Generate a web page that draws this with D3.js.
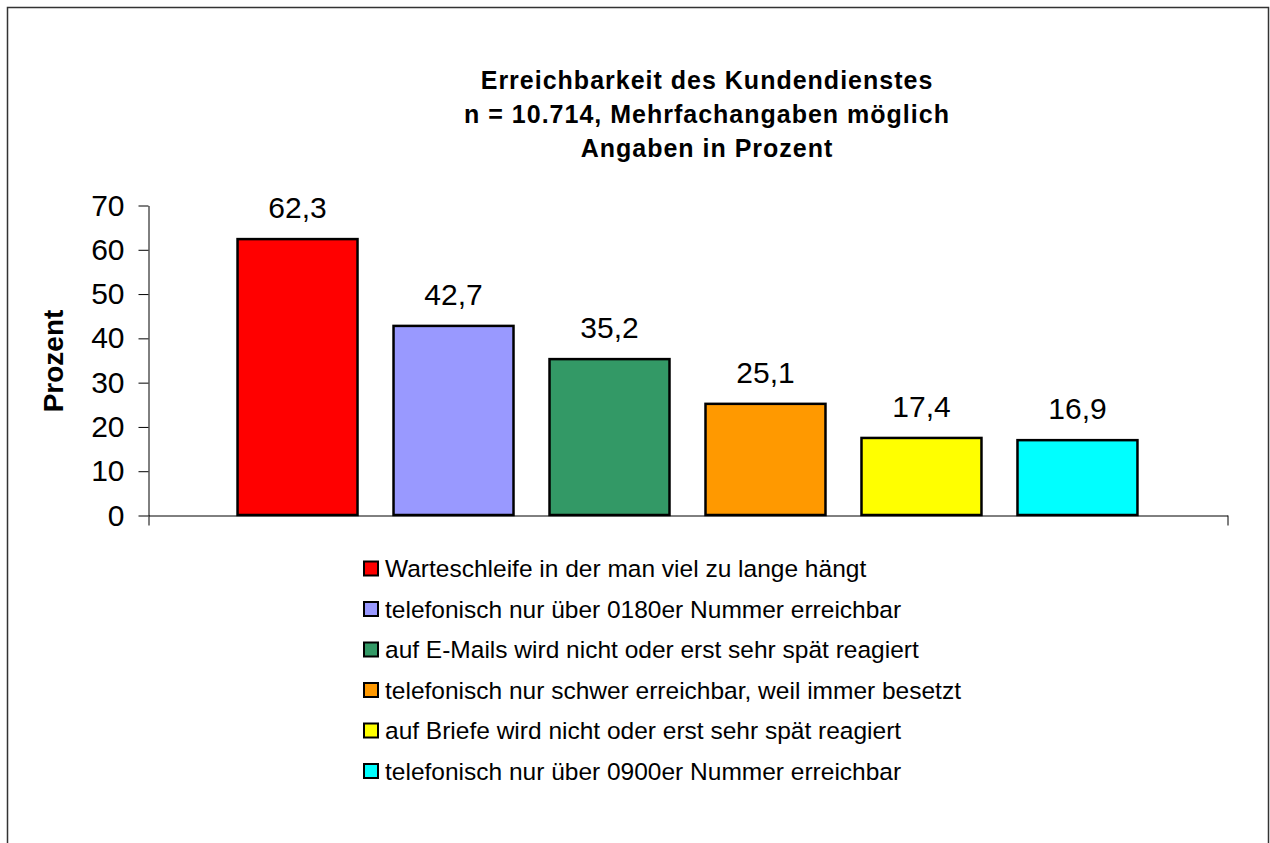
<!DOCTYPE html>
<html>
<head>
<meta charset="utf-8">
<script src="https://cdn.jsdelivr.net/npm/d3@7"></script>
<style>
  body { margin: 0; background: #fff; }
  svg { display: block; font-family: "Liberation Sans", Arial, sans-serif; }
</style>
</head>
<body>
<svg id="chart" width="1270" height="843"></svg>
<script>
// Chart data
const categories = [
    'Warteschleife in der man viel zu lange hängt',
    'telefonisch nur über 0180er Nummer erreichbar',
    'auf E-Mails wird nicht oder erst sehr spät reagiert',
    'telefonisch nur schwer erreichbar, weil immer besetzt',
    'auf Briefe wird nicht oder erst sehr spät reagiert',
    'telefonisch nur über 0900er Nummer erreichbar'
];
const values = [62.3, 42.7, 35.2, 25.1, 17.4, 16.9];
const colors = ['#ff0000', '#9999ff', '#339966', '#ff9900', '#ffff00', '#00ffff'];
const yTicks = [0, 10, 20, 30, 40, 50, 60, 70];
const titleLines = [
    'Erreichbarkeit des Kundendienstes',
    'n = 10.714, Mehrfachangaben möglich',
    'Angaben in Prozent'
];

const svg = d3.select('#chart');

// outer frame
svg.append('rect')
    .attr('x', 7.5)
    .attr('y', 7.5)
    .attr('width', 1261)
    .attr('height', 900)
    .attr('fill', 'none')
    .attr('stroke', '#333')
    .attr('stroke-width', 1.5);

const plotLeft = 148, plotRight = 1227, plotTop = 205, plotBottom = 515;

const x = d3.scaleBand()
    .domain(categories)
    .range([plotLeft, plotRight])
    .paddingInner(0.2308)
    .paddingOuter(0.574);

const y = d3.scaleLinear()
    .domain([0, 70])
    .range([plotBottom, plotTop]);

// y axis
const yAxis = svg.append('g')
    .attr('transform', `translate(${plotLeft + 0.5},0.5)`)
    .call(d3.axisLeft(y).tickValues(yTicks).tickSize(10).tickSizeOuter(0).tickPadding(14));
yAxis.select('.domain').attr('stroke', '#000');
yAxis.selectAll('.tick line').attr('stroke', '#000');
yAxis.selectAll('.tick text')
    .attr('font-size', '30px')
    .attr('font-family', '"Liberation Sans", Arial, sans-serif')
    .attr('fill', '#000');

// x axis (single category, ticks only at the edges)
const xEdge = d3.scaleLinear().domain([0, 1]).range([plotLeft, plotRight]);
const xAxis = svg.append('g')
    .attr('transform', `translate(0.5,${plotBottom + 0.5})`)
    .call(d3.axisBottom(xEdge).tickValues([0, 1]).tickFormat('').tickSize(10).tickSizeOuter(0));
xAxis.select('.domain').attr('stroke', '#000');
xAxis.selectAll('.tick line').attr('stroke', '#000');

// bars
svg.append('g')
    .selectAll('rect')
    .data(values)
    .join('rect')
    .attr('x', (d, i) => x(categories[i]))
    .attr('y', d => y(d))
    .attr('width', x.bandwidth())
    .attr('height', d => y(0) - y(d))
    .attr('fill', (d, i) => colors[i])
    .attr('stroke', '#000')
    .attr('stroke-width', 2.5);

// value labels
svg.append('g')
    .selectAll('text')
    .data(values)
    .join('text')
    .attr('x', (d, i) => x(categories[i]) + x.bandwidth() / 2)
    .attr('y', d => y(d) - 21)
    .attr('text-anchor', 'middle')
    .attr('font-size', '30px')
    .attr('fill', '#000')
    .text(d => d.toFixed(1).replace('.', ','));

// title
svg.append('text')
    .attr('x', 707)
    .attr('y', 89)
    .attr('text-anchor', 'middle')
    .attr('font-size', '25px')
    .attr('font-weight', 'bold')
    .attr('letter-spacing', '1px')
    .selectAll('tspan')
    .data(titleLines)
    .join('tspan')
    .attr('x', 707)
    .attr('dy', (d, i) => i === 0 ? 0 : 34)
    .text(d => d);

// y axis title
svg.append('text')
    .attr('transform', 'translate(63,361) rotate(-90)')
    .attr('text-anchor', 'middle')
    .attr('font-size', '28px')
    .attr('font-weight', 'bold')
    .text('Prozent');

// legend
const legend = svg.append('g')
    .selectAll('g')
    .data(categories)
    .join('g')
    .attr('transform', (d, i) => `translate(364,${568.5 + i * 40.5})`);

legend.append('rect')
    .attr('x', 0)
    .attr('y', -7)
    .attr('width', 14)
    .attr('height', 14)
    .attr('fill', (d, i) => colors[i])
    .attr('stroke', '#000')
    .attr('stroke-width', 2);

legend.append('text')
    .attr('x', 21)
    .attr('y', 8.5)
    .attr('font-size', '24.5px')
    .attr('fill', '#000')
    .text(d => d);
</script>
</body>
</html>
